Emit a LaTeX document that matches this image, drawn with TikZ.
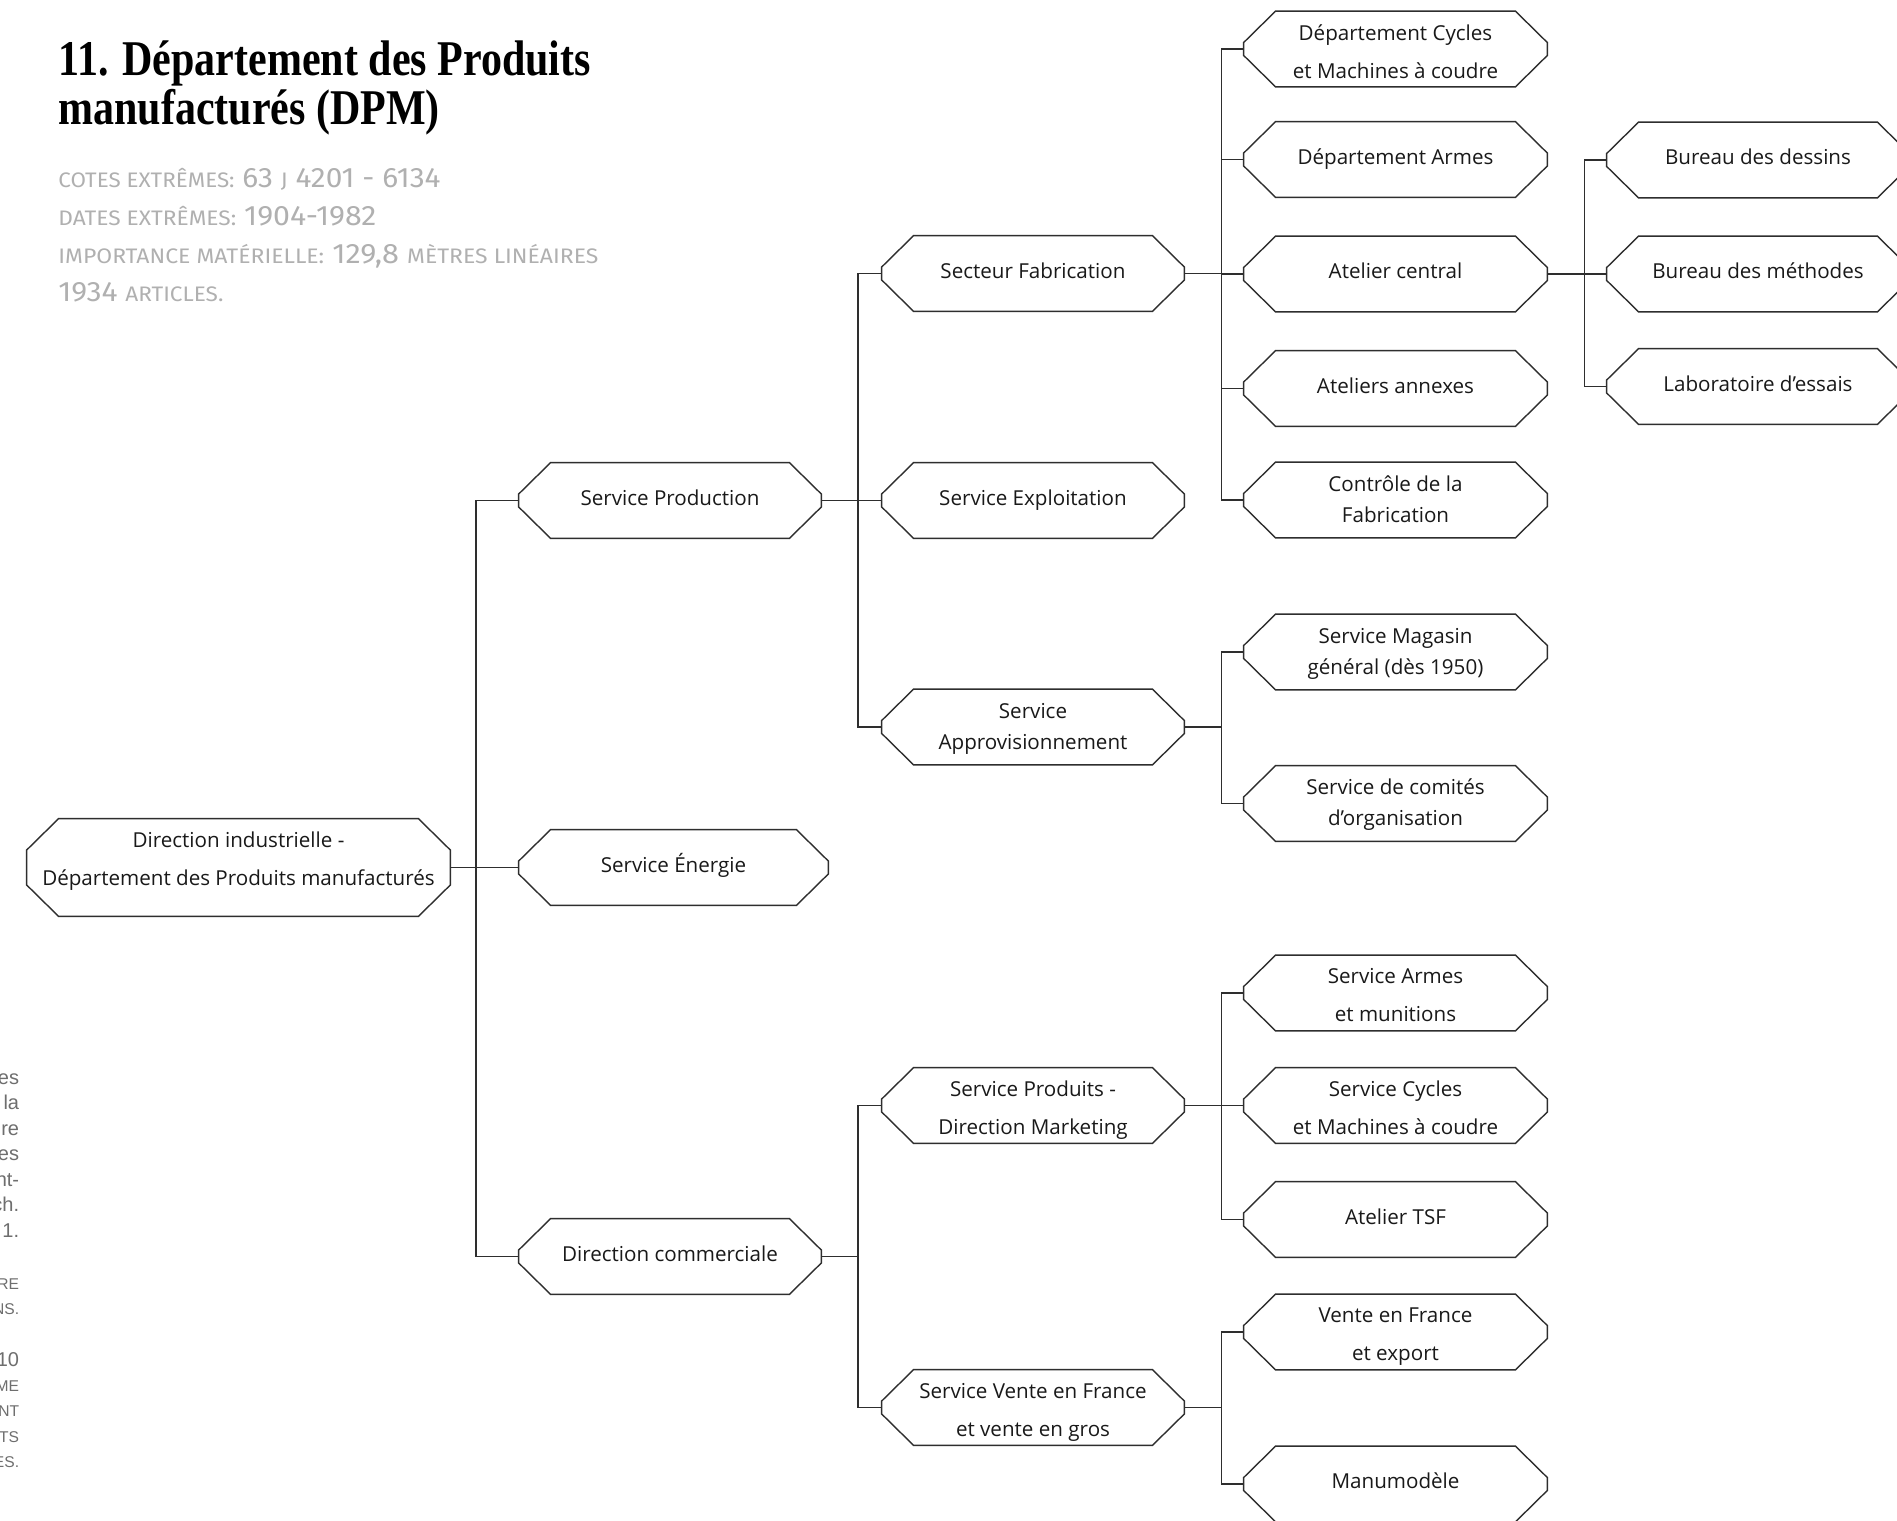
\documentclass[tikz,border=0pt]{standalone}
\usepackage{fontspec}
\usepackage{graphicx}
\setmainfont{Open Sans}
\newfontfamily\titlefont{Liberation Serif}
\newfontfamily\metafont{Fira Sans}
\newfontfamily\marginfont{Liberation Sans}
\usetikzlibrary{calc}

\definecolor{inkline}{HTML}{2E2E2E}
\definecolor{metagray}{HTML}{B0B0B0}
\definecolor{margingray}{HTML}{6E6E6E}

\tikzset{
  boxshape/.style={inner sep=0pt, draw=none},
  boxtext/.style={inner sep=0pt, align=center, yshift=1.5pt, text depth=0pt,
    font=\fontsize{10.3}{15.5}\selectfont, text=black!90},
  single/.style={text height=7.8pt},
  tight/.style={yshift=-1pt},
  loose/.style={yshift=-2.7pt, font=\fontsize{10.3}{19}\selectfont},
  boxline/.style={draw=inkline, line width=0.7pt, line join=miter},
  link/.style={draw=inkline, line width=0.7pt},
  metaline/.style={anchor=base west, inner sep=0pt, text=metagray},
  margintext/.style={anchor=base east, inner sep=0pt, text=margingray,
    font=\marginfont\fontsize{10}{12}\selectfont},
}

% small capitals for the archive details
\newcommand\metasc[1]{{\fontsize{10.5}{12}\selectfont #1}}
\newcommand\metabody{\metafont\fontsize{14}{16}\selectfont}
\newcommand\titlebody{\titlefont\bfseries\fontsize{25}{25}\selectfont}

% octagonal box: [text style] name, x, y, width, height, text
\newcommand\hexnode[7][single]{%
  \node[boxshape,minimum width=#5,minimum height=#6] (#2) at (#3,#4) {};
  \draw[boxline]
    ($(#2.north west)+(16pt,0)$) -- ($(#2.north east)+(-16pt,0)$)
    -- ($(#2.north east)+(0,-15.75pt)$) -- ($(#2.south east)+(0,15.75pt)$)
    -- ($(#2.south east)+(-16pt,0)$) -- ($(#2.south west)+(16pt,0)$)
    -- ($(#2.south west)+(0,15.75pt)$) -- ($(#2.north west)+(0,-15.75pt)$)
    -- cycle;
  \node[boxtext,#1] (#2-t) at (#2.center) {#7};
}

\begin{document}
\begin{tikzpicture}[x=0.5pt, y=-0.5pt]
  \useasboundingbox (0,0) rectangle (1897,1521);
  \fill[white] (0,0) rectangle (1897,1521);
  \clip (0,0) rectangle (1897,1521);

  % heading
  \node[anchor=base west, inner sep=0pt] (title1) at (58,75)
    {\scalebox{0.84}[1]{\titlebody 11. Département des Produits}};
  \node[anchor=base west, inner sep=0pt] (title2) at (58,124.6)
    {\scalebox{0.84}[1]{\titlebody manufacturés (DPM)}};

  % archive details
  \node[metaline] (meta1) at (58,187.5)
    {\resizebox{191pt}{\height}{\metabody \metasc{COTES EXTRÊMES:} 63 \metasc{J} 4201 - 6134}};
  \node[metaline] (meta2) at (58,225)
    {\resizebox{159pt}{\height}{\metabody \metasc{DATES EXTRÊMES:} 1904-1982}};
  \node[metaline] (meta3) at (58,263.7)
    {\resizebox{270pt}{\height}{\metabody \metasc{IMPORTANCE MATÉRIELLE:} 129,8 \metasc{MÈTRES LINÉAIRES}}};
  \node[metaline] (meta4) at (58,301)
    {\resizebox{82.5pt}{\height}{\metabody 1934 \metasc{ARTICLES.}}};

  % text running in from the left margin
  \foreach \t/\y [count=\i] in {es/1084, la/1109.5, re/1135, es/1160.5, nt-/1186,
      ch./1211.5, 1./1237, 10/1366.5}
    \node[margintext] (marg\i) at (19.5,\y) {\t};
  \foreach \t/\y [count=\i] in {RE/1289, NS./1314, ME/1391, NT/1416.5, TS/1442, ES./1467.5}
    \node[margintext, font=\marginfont\fontsize{7.8}{10}\selectfont] (margsc\i) at (19.5,\y) {\t};

  % level 1
  \hexnode[yshift=3pt]{root}{238.5}{867.5}{211.5pt}{48.5pt}{Direction industrielle -\\[3.5pt]Département des Produits manufacturés}

  % level 2
  \hexnode{sprod}{670}{500.5}{151pt}{37.5pt}{Service Production}
  \hexnode{senerg}{673.5}{867.5}{154.5pt}{37.5pt}{Service Énergie}
  \hexnode{dcomm}{670}{1256.5}{151pt}{37.5pt}{Direction commerciale}

  % level 3
  \hexnode{sfab}{1033}{273.5}{151pt}{37.5pt}{Secteur Fabrication}
  \hexnode{sexpl}{1033}{500.5}{151pt}{37.5pt}{Service Exploitation}
  \hexnode[tight]{sappro}{1033}{727}{151pt}{37.5pt}{Service\\Approvisionnement}
  \hexnode[loose]{sprodmk}{1033}{1105.5}{151pt}{37.5pt}{Service Produits -\\Direction Marketing}
  \hexnode[loose]{svente}{1033}{1407.5}{151pt}{37.5pt}{Service Vente en France\\et vente en gros}

  % level 4
  \hexnode[loose]{dcycles}{1395.5}{49}{151.5pt}{37.5pt}{Département Cycles\\et Machines à coudre}
  \hexnode{darmes}{1395.5}{159.5}{151.5pt}{37.5pt}{Département Armes}
  \hexnode{acentral}{1395.5}{274}{151.5pt}{37.5pt}{Atelier central}
  \hexnode{aannexes}{1395.5}{388.5}{151.5pt}{37.5pt}{Ateliers annexes}
  \hexnode[tight]{controle}{1395.5}{500}{151.5pt}{37.5pt}{Contrôle de la\\Fabrication}
  \hexnode[tight]{smagasin}{1395.5}{652}{151.5pt}{37.5pt}{Service Magasin\\général (dès 1950)}
  \hexnode[tight]{scomites}{1395.5}{803.5}{151.5pt}{37.5pt}{Service de comités\\d’organisation}
  \hexnode[loose]{sarmes}{1395.5}{993}{151.5pt}{37.5pt}{Service Armes\\et munitions}
  \hexnode[loose]{scycles}{1395.5}{1105.5}{151.5pt}{37.5pt}{Service Cycles\\et Machines à coudre}
  \hexnode{atsf}{1395.5}{1219.5}{151.5pt}{37.5pt}{Atelier TSF}
  \hexnode[loose]{vfrance}{1395.5}{1332}{151.5pt}{37.5pt}{Vente en France\\et export}
  \hexnode{manu}{1395.5}{1484}{151.5pt}{37.5pt}{Manumodèle}

  % level 5
  \hexnode{bdessins}{1758}{160}{151pt}{37.5pt}{Bureau des dessins}
  \hexnode{bmethodes}{1758}{274}{151pt}{37.5pt}{Bureau des méthodes}
  \hexnode{labo}{1758}{386.5}{151pt}{37.5pt}{Laboratoire d’essais}

  % vertical buses of the tree
  \coordinate (bus1) at (476,0);
  \coordinate (bus2) at (858,0);
  \coordinate (bus3) at (1221.5,0);
  \coordinate (bus4) at (1584.5,0);

  % connectors
  \foreach \c in {sprod, senerg, dcomm}
    \draw[link] (root.east) -- (root.east -| bus1) |- (\c.west);
  \foreach \c in {sfab, sexpl, sappro}
    \draw[link] (sprod.east) -- (sprod.east -| bus2) |- (\c.west);
  \foreach \c in {sprodmk, svente}
    \draw[link] (dcomm.east) -- (dcomm.east -| bus2) |- (\c.west);
  \foreach \c in {dcycles, darmes, acentral, aannexes, controle}
    \draw[link] (sfab.east) -- (sfab.east -| bus3) |- (\c.west);
  \foreach \c in {smagasin, scomites}
    \draw[link] (sappro.east) -- (sappro.east -| bus3) |- (\c.west);
  \foreach \c in {sarmes, scycles, atsf}
    \draw[link] (sprodmk.east) -- (sprodmk.east -| bus3) |- (\c.west);
  \foreach \c in {vfrance, manu}
    \draw[link] (svente.east) -- (svente.east -| bus3) |- (\c.west);
  \foreach \c in {bdessins, bmethodes, labo}
    \draw[link] (acentral.east) -- (acentral.east -| bus4) |- (\c.west);
\end{tikzpicture}
\end{document}
